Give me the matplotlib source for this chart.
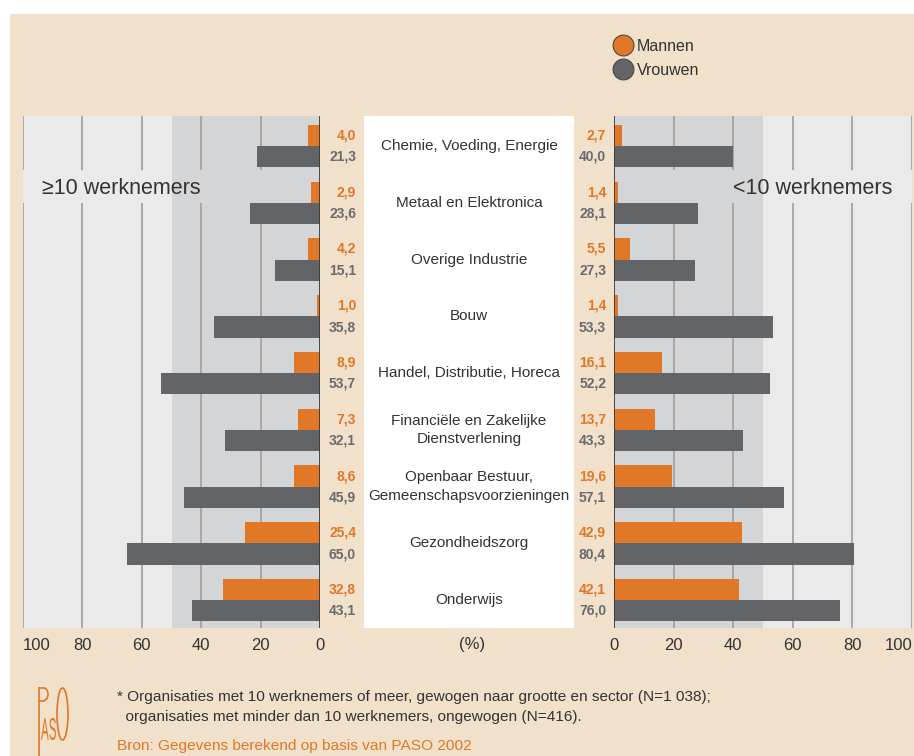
import matplotlib.pyplot as plt
import matplotlib.transforms as mtransforms
from matplotlib.patches import Rectangle, Ellipse, Arc, PathPatch
from matplotlib.lines import Line2D
from matplotlib.textpath import TextPath

plt.rcParams['font.family'] = ['Liberation Sans', 'DejaVu Sans']

# data
sectors = ['Chemie, Voeding, Energie', 'Metaal en Elektronica', 'Overige Industrie', 'Bouw',
           'Handel, Distributie, Horeca', 'Financiële en Zakelijke\nDienstverlening',
           'Openbaar Bestuur,\nGemeenschapsvoorzieningen', 'Gezondheidszorg', 'Onderwijs']
groot_mannen = [4.0, 2.9, 4.2, 1.0, 8.9, 7.3, 8.6, 25.4, 32.8]
groot_vrouwen = [21.3, 23.6, 15.1, 35.8, 53.7, 32.1, 45.9, 65.0, 43.1]
klein_mannen = [2.7, 1.4, 5.5, 1.4, 16.1, 13.7, 19.6, 42.9, 42.1]
klein_vrouwen = [40.0, 28.1, 27.3, 53.3, 52.2, 43.3, 57.1, 80.4, 76.0]
ticks = [0, 20, 40, 60, 80, 100]

ORANGE = '#E07828'
GRAY = '#626468'
LABELGRAY = '#6A6B6E'
BEIGE = '#F1E0CA'
LIGHT = '#EAEAEA'
DARK = '#D4D5D7'
TEXT = '#333333'

W, H = 914, 756
fig = plt.figure(figsize=(W / 100, H / 100), dpi=100, facecolor='white')


def fx(px):
    return px / W


def fy(py):
    return 1 - py / H


# beige background and white middle column
fig.patches.append(Rectangle((fx(10), 0), fx(904), fy(14), transform=fig.transFigure,
                             facecolor=BEIGE, edgecolor='none', zorder=-2))
fig.patches.append(Rectangle((fx(364), fy(628)), fx(210), (628 - 116) / H, transform=fig.transFigure,
                             facecolor='white', edgecolor='none', zorder=-1))

top, bottom = 116, 628
ax_l = fig.add_axes([fx(23), fy(bottom), fx(297), (bottom - top) / H])
ax_r = fig.add_axes([fx(614), fy(bottom), fx(298), (bottom - top) / H])

n = len(sectors)
y = list(range(n))
bh = 0.375
gap = (0.42, 1.0)  # gridline gap behind the big labels

for ax, men, women, title, tx in [(ax_l, groot_mannen, groot_vrouwen, '\u226510 werknemers', 42),
                                  (ax_r, klein_mannen, klein_vrouwen, '<10 werknemers', 733)]:
    ax.set_facecolor(LIGHT)
    ax.axvspan(0, 50, color=DARK, zorder=0, lw=0)
    ax.set_xlim(0, 100)
    ax.set_ylim(n - 0.51, -0.53)
    for t in ticks[1:]:
        ax.vlines(t, -0.53, gap[0], color='#A3A3A3', lw=1.3, zorder=1)
        ax.vlines(t, gap[1], n - 0.51, color='#A3A3A3', lw=1.3, zorder=1)
    ax.axvline(0, color='#3A3A3A', lw=1.3, zorder=3)
    ax.barh([v - bh / 2 for v in y], men, height=bh, color=ORANGE, zorder=2)
    ax.barh([v + bh / 2 for v in y], women, height=bh, color=GRAY, zorder=2)
    for s in ax.spines.values():
        s.set_visible(False)
    ax.set_yticks([])
    ax.set_xticks(ticks)
    ax.tick_params(axis='x', length=0, pad=7, labelsize=12, labelcolor=TEXT)
    trans = mtransforms.blended_transform_factory(fig.transFigure, ax.transData)
    ax.text(fx(tx), 0.74, title, transform=trans, fontsize=15.5, color=TEXT,
            ha='left', va='center')

ax_l.invert_xaxis()
labs = ax_l.get_xticklabels()
labs[-1].set_horizontalalignment('left')
labs_r = ax_r.get_xticklabels()
labs_r[-1].set_horizontalalignment('right')


def fmt(v):
    return f'{v:.1f}'.replace('.', ',')


trans = mtransforms.blended_transform_factory(fig.transFigure, ax_l.transData)
for i in y:
    ax_l.text(fx(356), i - bh / 2, fmt(groot_mannen[i]), transform=trans, ha='right', va='center',
              fontsize=10, fontweight='bold', color=ORANGE)
    ax_l.text(fx(356), i + bh / 2, fmt(groot_vrouwen[i]), transform=trans, ha='right', va='center',
              fontsize=10, fontweight='bold', color=LABELGRAY)
    ax_l.text(fx(606), i - bh / 2, fmt(klein_mannen[i]), transform=trans, ha='right', va='center',
              fontsize=10, fontweight='bold', color=ORANGE)
    ax_l.text(fx(606), i + bh / 2, fmt(klein_vrouwen[i]), transform=trans, ha='right', va='center',
              fontsize=10, fontweight='bold', color=LABELGRAY)
    ax_l.text(fx(469), i, sectors[i], transform=trans, ha='center', va='center',
              fontsize=11, color=TEXT, linespacing=1.4)

fig.text(fx(472), fy(644), '(%)', ha='center', va='center', fontsize=12, color=TEXT)

# legend
handles = [Line2D([], [], marker='o', ls='', markersize=15, markerfacecolor=ORANGE,
                  markeredgecolor='#4A4A4A', markeredgewidth=0.8, label='Mannen'),
           Line2D([], [], marker='o', ls='', markersize=15, markerfacecolor=GRAY,
                  markeredgecolor='#4A4A4A', markeredgewidth=0.8, label='Vrouwen')]
fig.legend(handles=handles, loc='upper left', bbox_to_anchor=(fx(603), fy(31)), frameon=False,
           fontsize=11.5, handletextpad=0.1, labelspacing=0.55, borderpad=0, handlelength=1.5,
           labelcolor=TEXT)

# footnote
fig.text(fx(117), fy(697), '* Organisaties met 10 werknemers of meer, gewogen naar grootte en sector (N=1 038);',
         fontsize=11.1, color=TEXT, va='center')
fig.text(fx(117), fy(717), '  organisaties met minder dan 10 werknemers, ongewogen (N=416).',
         fontsize=11.1, color=TEXT, va='center')
fig.text(fx(117), fy(746), 'Bron: Gegevens berekend op basis van PASO 2002',
         fontsize=11.1, color=ORANGE, va='center')

# PASO logo: stem + bowl of the P, narrow "AS", tall O
fig.lines.append(Line2D([fx(39), fx(39)], [fy(688), 0], transform=fig.transFigure,
                        color=ORANGE, lw=1.2))
fig.lines.append(Line2D([fx(39), fx(43.5)], [fy(688), fy(688)], transform=fig.transFigure,
                        color=ORANGE, lw=1.2))
fig.lines.append(Line2D([fx(39), fx(43.5)], [fy(700.5), fy(700.5)], transform=fig.transFigure,
                        color=ORANGE, lw=1.2))
fig.patches.append(Arc((fx(43.5), fy(694.25)), fx(9), 12.5 / H, theta1=-90, theta2=90,
                       transform=fig.transFigure, color=ORANGE, lw=1.2))
tp = TextPath((0, 0), 'AS', size=10)
bb = tp.get_extents()
sx = 15 / bb.width
sy = 22 / bb.height
tr = mtransforms.Affine2D().translate(-bb.x0, -bb.y0).scale(sx, sy).translate(41, H - 740)
fig.patches.append(PathPatch(tp, transform=tr, facecolor=ORANGE, edgecolor='none'))
fig.patches.append(Ellipse((fx(62.5), fy(714)), fx(11), 52 / H, transform=fig.transFigure,
                           facecolor='none', edgecolor=ORANGE, lw=1.2))

fig.savefig('out.png', dpi=100, facecolor='white')
